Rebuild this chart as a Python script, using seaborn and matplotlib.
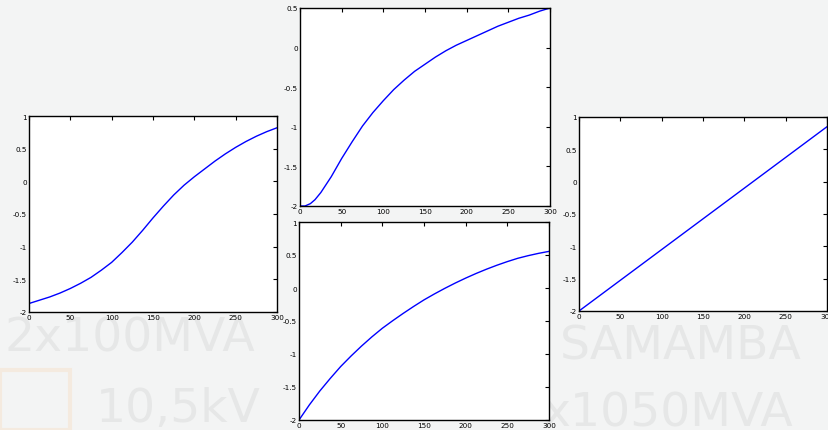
import numpy as np
import pandas as pd
import matplotlib
matplotlib.use("Agg")
import matplotlib.pyplot as plt
import matplotlib.patches as mpatches
import seaborn as sns

# ---- data ----
x_left = [0, 12.5, 25, 37.5, 50, 62.5, 75, 87.5, 100, 112.5, 125, 137.5, 150,
          162.5, 175, 187.5, 200, 212.5, 225, 237.5, 250, 262.5, 275, 287.5, 300]
y_left = [-1.87, -1.82, -1.77, -1.71, -1.64, -1.56, -1.47, -1.36, -1.24, -1.09, -0.93, -0.75, -0.56,
          -0.38, -0.21, -0.06, 0.07, 0.19, 0.31, 0.42, 0.52, 0.61, 0.69, 0.76, 0.82]

x_top = [0, 6, 12.5, 18, 25, 37.5, 50, 62.5, 75, 87.5, 100, 112.5, 125, 137.5, 150,
         162.5, 175, 187.5, 200, 212.5, 225, 237.5, 250, 262.5, 275, 287.5, 300]
y_top = [-2.0, -2.0, -1.97, -1.92, -1.83, -1.63, -1.40, -1.19, -0.99, -0.82, -0.67, -0.53, -0.41, -0.30, -0.21,
         -0.12, -0.04, 0.03, 0.09, 0.15, 0.21, 0.27, 0.32, 0.37, 0.41, 0.46, 0.5]

x_bot = [0, 12.5, 25, 37.5, 50, 62.5, 75, 87.5, 100, 112.5, 125, 137.5, 150,
         162.5, 175, 187.5, 200, 212.5, 225, 237.5, 250, 262.5, 275, 287.5, 300]
y_bot = [-2.0, -1.77, -1.56, -1.37, -1.19, -1.03, -0.88, -0.74, -0.61, -0.495, -0.385, -0.28, -0.18,
         -0.09, -0.005, 0.075, 0.15, 0.22, 0.285, 0.345, 0.40, 0.45, 0.49, 0.525, 0.555]

x_right = [0, 50, 100, 150, 200, 250, 300]
y_right = [-2.0, -1.525, -1.05, -0.575, -0.1, 0.375, 0.85]

x_ticks = [0, 50, 100, 150, 200, 250, 300]
y_ticks_full = [-2, -1.5, -1, -0.5, 0, 0.5, 1]
y_ticks_top = [-2, -1.5, -1, -0.5, 0, 0.5]

sns.set_theme(style="white")
plt.rcParams['font.family'] = ['DejaVu Sans']

W, H = 829, 431
fig = plt.figure(figsize=(W / 100, H / 100), dpi=100)
fig.patch.set_facecolor("#f3f4f4")

# faint background watermark
wm = dict(color="#e6e7e7", fontsize=34, zorder=-5)
fig.text(0.005, 0.185, "2x100MVA", **wm)
fig.text(0.115, 0.02, "10,5kV", **wm)
fig.text(0.675, 0.165, "SAMAMBA", **wm)
fig.text(0.655, 0.01, "x1050MVA", **wm)
fig.patches.append(mpatches.Rectangle((0.0, 0.0), 0.085, 0.14, transform=fig.transFigure,
                                      facecolor="none", edgecolor="#f4eadf", linewidth=3, zorder=-5))


def fpos(x0, x1, y0, y1):
    return [x0 / W, (H - y1) / H, (x1 - x0) / W, (y1 - y0) / H]


panels = [
    (fpos(29, 277, 117, 313), x_left, y_left, (-2, 1), y_ticks_full),
    (fpos(300, 550, 9, 207), x_top, y_top, (-2, 0.5), y_ticks_top),
    (fpos(299, 549, 223, 421), x_bot, y_bot, (-2, 1), y_ticks_full),
    (fpos(579, 827, 118, 312), x_right, y_right, (-2, 1), y_ticks_full),
]

for pos, xs, ys, ylim, yt in panels:
    ax = fig.add_axes(pos)
    ax.set_facecolor("white")
    df = pd.DataFrame({"x": xs, "y": ys})
    sns.lineplot(data=df, x="x", y="y", ax=ax, color="#0000ff", linewidth=1.0)
    ax.set_xlim(0, 300)
    ax.set_ylim(*ylim)
    ax.set_xticks(x_ticks)
    ax.set_yticks(yt)
    ax.set_xticklabels([f"{t:g}" for t in x_ticks])
    ax.set_yticklabels([f"{t:g}" for t in yt])
    ax.set_xlabel("")
    ax.set_ylabel("")
    ax.tick_params(direction="in", length=3, width=0.8, labelsize=5.2,
                   top=True, right=True, pad=1.5, colors="black")
    for s in ax.spines.values():
        s.set_color("black")
        s.set_linewidth(1.0)
        s.set_visible(True)

fig.savefig("out.png", dpi=100, facecolor=fig.get_facecolor())
